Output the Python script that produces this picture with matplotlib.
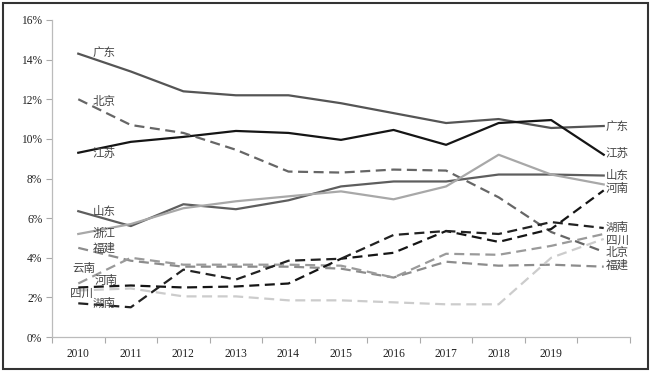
import matplotlib
matplotlib.use("Agg")
import matplotlib.pyplot as plt
from matplotlib.patches import Rectangle
from matplotlib.ticker import FixedLocator, FuncFormatter

years = [2010, 2011, 2012, 2013, 2014, 2015, 2016, 2017, 2018, 2019, 2020]
year_labels = ["2010", "2011", "2012", "2013", "2014", "2015", "2016", "2017", "2018", "2019", ""]

guangdong = [14.3, 13.4, 12.4, 12.2, 12.2, 11.8, 11.3, 10.8, 11.0, 10.55, 10.65]
jiangsu   = [9.3, 9.85, 10.1, 10.4, 10.3, 9.95, 10.45, 9.7, 10.8, 10.95, 9.2]
beijing   = [12.0, 10.7, 10.3, 9.45, 8.35, 8.3, 8.45, 8.4, 7.05, 5.3, 4.3]
shandong  = [6.35, 5.6, 6.7, 6.45, 6.9, 7.6, 7.85, 7.85, 8.2, 8.2, 8.15]
zhejiang  = [5.2, 5.7, 6.5, 6.85, 7.1, 7.35, 6.95, 7.6, 9.2, 8.2, 7.7]
fujian    = [4.5, 3.85, 3.55, 3.55, 3.55, 3.45, 3.0, 3.8, 3.6, 3.65, 3.55]
yunnan    = [2.7, 4.0, 3.65, 3.65, 3.65, 3.6, 3.0, 4.2, 4.15, 4.6, 5.2]
henan     = [2.5, 2.6, 2.5, 2.55, 2.7, 3.95, 4.25, 5.35, 4.8, 5.45, 7.4]
sichuan   = [2.35, 2.45, 2.05, 2.05, 1.85, 1.85, 1.75, 1.65, 1.65, 4.0, 4.95]
hunan     = [1.7, 1.5, 3.4, 2.9, 3.85, 3.95, 5.15, 5.35, 5.2, 5.8, 5.5]

fig = plt.figure(figsize=(6.55, 3.73), dpi=100)
ax = fig.add_axes([52/655, 1-337/373, 578/655, 317/373])

x = list(range(len(years)))
lw = 1.6
dash = (0, (4.5, 2.5))
series = [
    ("广东", guangdong, "#555555", "-"),
    ("江苏", jiangsu, "#151515", "-"),
    ("北京", beijing, "#666666", dash),
    ("山东", shandong, "#5e5e5e", "-"),
    ("浙江", zhejiang, "#a8a8a8", "-"),
    ("福建", fujian, "#8c8c8c", dash),
    ("云南", yunnan, "#9a9a9a", dash),
    ("四川", sichuan, "#cccccc", dash),
    ("河南", henan, "#151515", dash),
    ("湖南", hunan, "#222222", dash),
]
for name, vals, col, ls in series:
    ax.plot(x, vals, color=col, linestyle=ls, linewidth=lw)

font_cjk = ["Noto Sans CJK SC", "DejaVu Sans"]
lab_col = "#444444"
left_labels = [
    ("广东", 0.28, 14.35), ("北京", 0.28, 11.9), ("江苏", 0.28, 9.25),
    ("山东", 0.28, 6.35), ("浙江", 0.28, 5.2), ("福建", 0.28, 4.5),
    ("云南", -0.12, 3.45), ("河南", 0.32, 2.85), ("四川", -0.15, 2.2),
    ("湖南", 0.28, 1.7),
]
for t, xi, yv in left_labels:
    ax.text(xi, yv, t, fontsize=8.3, color=lab_col, family=font_cjk,
            ha="left", va="center")
right_labels = [
    ("广东", 10.65), ("江苏", 9.25), ("山东", 8.13), ("河南", 7.5),
    ("湖南", 5.55), ("四川", 4.9), ("北京", 4.25), ("福建", 3.6),
]
for t, yv in right_labels:
    ax.text(10.04, yv, t, fontsize=8.3, color=lab_col, family=font_cjk,
            ha="left", va="center")

ax.set_xlim(-0.5, 10.5)
ax.set_ylim(0, 16)
ax.xaxis.set_major_locator(FixedLocator([i - 0.5 for i in range(12)]))
ax.xaxis.set_minor_locator(FixedLocator(x))
ax.xaxis.set_major_formatter(FuncFormatter(lambda v, p: ""))
ax.xaxis.set_minor_formatter(FuncFormatter(lambda v, p: year_labels[int(round(v))] if 0 <= int(round(v)) < len(year_labels) else ""))
ax.tick_params(axis="x", which="minor", length=0, pad=8)
ax.tick_params(axis="x", which="major", length=4, color="#aaaaaa", direction="out")
ax.set_yticks(range(0, 17, 2))
ax.yaxis.set_major_formatter(FuncFormatter(lambda v, p: f"{int(v)}%"))
ax.tick_params(axis="y", length=4, color="#aaaaaa", direction="out", pad=3)
for lab in ax.get_xticklabels(minor=True) + ax.get_yticklabels():
    lab.set_fontfamily("Liberation Serif")
    lab.set_fontsize(8.3)
    lab.set_color("#222222")
for s in ["top", "right"]:
    ax.spines[s].set_visible(False)
for s in ["left", "bottom"]:
    ax.spines[s].set_color("#bbbbbb")
    ax.spines[s].set_linewidth(0.9)

fig.patches.append(Rectangle((3/655, 4/373), 645/655, 366/373, transform=fig.transFigure,
                             fill=False, edgecolor="#333333", linewidth=1.5))

fig.savefig("out.png", dpi=100)
